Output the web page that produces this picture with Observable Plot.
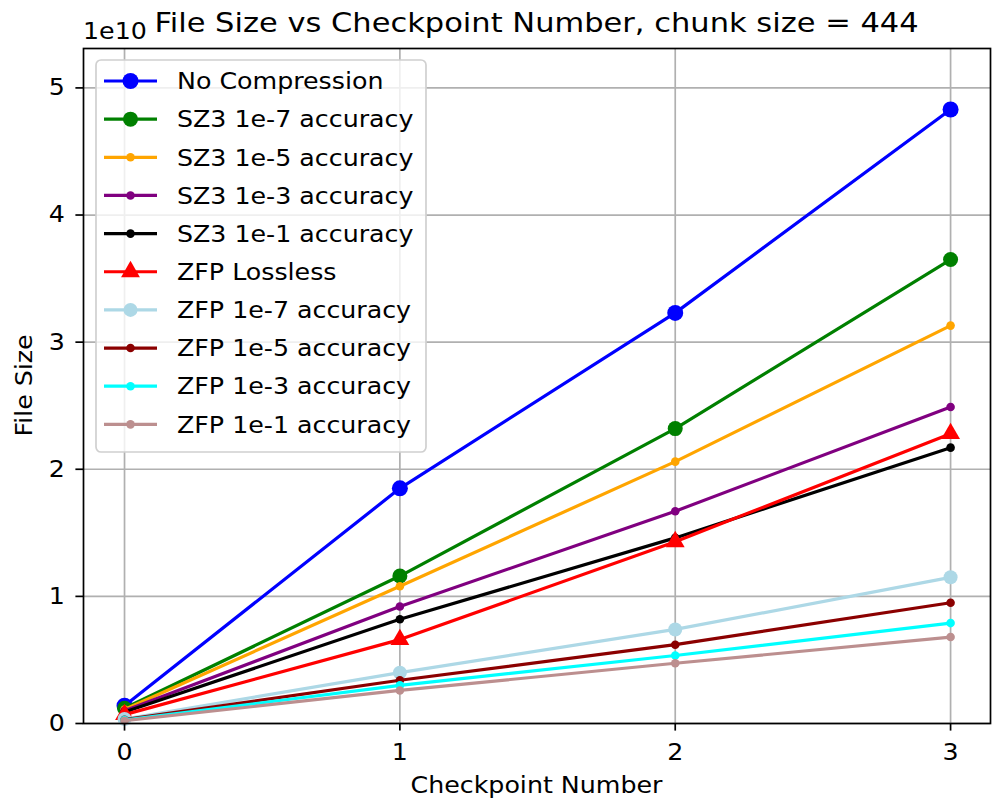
<!DOCTYPE html>
<html>
<head>
<meta charset="utf-8">
<script src="https://cdn.jsdelivr.net/npm/d3@7"></script>
<script src="https://cdn.jsdelivr.net/npm/@observablehq/plot@0.6"></script>
<style>
  html, body { margin: 0; padding: 0; background: white; }
  #chart svg { display: block; }
</style>
</head>
<body>
<div id="chart"></div>
<script>
// Checkpoint indices on the x axis
const checkpoints = [0, 1, 2, 3];

// Series names, in legend order
const seriesNames = [
  "No Compression",
  "SZ3 1e-7 accuracy",
  "SZ3 1e-5 accuracy",
  "SZ3 1e-3 accuracy",
  "SZ3 1e-1 accuracy",
  "ZFP Lossless",
  "ZFP 1e-7 accuracy",
  "ZFP 1e-5 accuracy",
  "ZFP 1e-3 accuracy",
  "ZFP 1e-1 accuracy"
];

// File sizes (bytes) per checkpoint
const noCompression = [0.14e10, 1.85e10, 3.23e10, 4.83e10];
const sz3_1e7       = [0.12e10, 1.16e10, 2.32e10, 3.65e10];
const sz3_1e5       = [0.11e10, 1.08e10, 2.06e10, 3.13e10];
const sz3_1e3       = [0.10e10, 0.92e10, 1.67e10, 2.49e10];
const sz3_1e1       = [0.09e10, 0.82e10, 1.46e10, 2.17e10];
const zfpLossless   = [0.07e10, 0.66e10, 1.43e10, 2.28e10];
const zfp_1e7       = [0.035e10, 0.40e10, 0.74e10, 1.15e10];
const zfp_1e5       = [0.03e10, 0.34e10, 0.62e10, 0.95e10];
const zfp_1e3       = [0.027e10, 0.30e10, 0.535e10, 0.79e10];
const zfp_1e1       = [0.022e10, 0.26e10, 0.474e10, 0.68e10];

// Y axis ticks (shown in units of 1e10)
const yTicks = [0, 1e10, 2e10, 3e10, 4e10, 5e10];
const xTicks = [0, 1, 2, 3];

const seriesValues = [noCompression, sz3_1e7, sz3_1e5, sz3_1e3, sz3_1e1,
                      zfpLossless, zfp_1e7, zfp_1e5, zfp_1e3, zfp_1e1];

// Line colour and marker style per series
const styles = [
  {color: "blue",      symbol: "circle",   r: 8},
  {color: "green",     symbol: "circle",   r: 7.5},
  {color: "orange",    symbol: "circle",   r: 4.3},
  {color: "purple",    symbol: "circle",   r: 4.3},
  {color: "black",     symbol: "circle",   r: 4.3},
  {color: "red",       symbol: "triangle", r: 7},
  {color: "lightblue", symbol: "circle",   r: 7},
  {color: "darkred",   symbol: "circle",   r: 4.3},
  {color: "cyan",      symbol: "circle",   r: 4.3},
  {color: "rosybrown", symbol: "circle",   r: 4.3}
];

const rows = seriesNames.map((name, i) =>
  checkpoints.map((c, j) => ({series: name, checkpoint: c, size: seriesValues[i][j]}))
);

const font = "'DejaVu Sans', sans-serif";
const textSize = 23;      // ticks, axis labels, legend
const titleSize = 27;
const widen = 1.1;        // horizontal text scale
const gridColor = "#b0b0b0";

const seriesMarks = rows.flatMap((data, i) => [
  Plot.line(data, {x: "checkpoint", y: "size", stroke: styles[i].color, strokeWidth: 3.2}),
  Plot.dot(data, {x: "checkpoint", y: "size", fill: styles[i].color, stroke: "none",
                  symbol: styles[i].symbol, r: styles[i].r})
]);

const chart = Plot.plot({
  width: 998,
  height: 801,
  marginLeft: 83,
  marginRight: 8,
  marginTop: 48,
  marginBottom: 78,
  style: {fontFamily: font, fontSize: textSize + "px", color: "black", background: "white"},
  x: {domain: [-0.149, 3.145]},
  y: {domain: [0, 5.31e10]},
  marks: [
    Plot.gridX(xTicks, {stroke: gridColor, strokeOpacity: 1, strokeWidth: 1.7}),
    Plot.gridY(yTicks, {stroke: gridColor, strokeOpacity: 1, strokeWidth: 1.7}),
    ...seriesMarks,
    Plot.frame({stroke: "black", strokeWidth: 1.7}),
    Plot.axisX(xTicks, {tickSize: 7.6, tickPadding: 13, strokeWidth: 1.7,
                        tickFormat: d => String(d), label: null}),
    Plot.axisY(yTicks, {tickSize: 7.6, tickPadding: 11, strokeWidth: 1.7,
                        tickFormat: d => String(d / 1e10), label: null})
  ]
});

const svg = d3.select(chart);

// widen the tick labels a little around their anchor point
svg.selectAll("g[aria-label$='tick label'] text").each(function () {
  const t = this.getAttribute("transform") || "";
  this.setAttribute("transform", `${t} scale(${widen},1)`);
});

const plotLeft = 83, plotRight = 990, plotTop = 48, plotBottom = 723;
const cx = (plotLeft + plotRight) / 2;

function addText(x, y, str, size, anchor, extra = "") {
  return svg.append("text")
    .attr("transform", `translate(${x},${y}) ${extra} scale(${widen},1)`)
    .attr("text-anchor", anchor)
    .attr("font-family", font).attr("font-size", size)
    .attr("fill", "black")
    .text(str);
}

// Title, offset text and axis labels
addText(cx, 32, "File Size vs Checkpoint Number, chunk size = 444", titleSize, "middle")
  .attr("transform", `translate(${cx},32) scale(1.13,1)`);
addText(plotLeft, 39, "1e10", textSize, "start");
addText(cx, 793, "Checkpoint Number", textSize, "middle");
svg.append("text")
  .attr("transform", `translate(32,${(plotTop + plotBottom) / 2}) rotate(-90) scale(${widen},1)`)
  .attr("text-anchor", "middle")
  .attr("font-family", font).attr("font-size", textSize)
  .attr("fill", "black")
  .text("File Size");

// Legend box in the upper-left corner
const legend = svg.append("g").attr("text-anchor", "start");
legend.append("rect")
  .attr("x", 96).attr("y", 60).attr("width", 330).attr("height", 392)
  .attr("rx", 5)
  .attr("fill", "white").attr("fill-opacity", 0.8)
  .attr("stroke", "#d0d0d0").attr("stroke-width", 1.7);

const rowStep = 38.15;
seriesNames.forEach((name, i) => {
  const y = 81 + i * rowStep;
  const st = styles[i];
  legend.append("line")
    .attr("x1", 104).attr("x2", 157).attr("y1", y).attr("y2", y)
    .attr("stroke", st.color).attr("stroke-width", 3.2);
  const sym = st.symbol === "triangle" ? d3.symbolTriangle : d3.symbolCircle;
  legend.append("path")
    .attr("transform", `translate(130.5,${y})`)
    .attr("d", d3.symbol(sym, Math.PI * st.r * st.r)())
    .attr("fill", st.color);
  legend.append("text")
    .attr("transform", `translate(177,${y}) scale(${widen},1)`)
    .attr("dy", "0.36em")
    .attr("text-anchor", "start")
    .attr("font-family", font).attr("font-size", textSize)
    .attr("fill", "black")
    .text(name);
});

document.getElementById("chart").appendChild(chart);
</script>
</body>
</html>
